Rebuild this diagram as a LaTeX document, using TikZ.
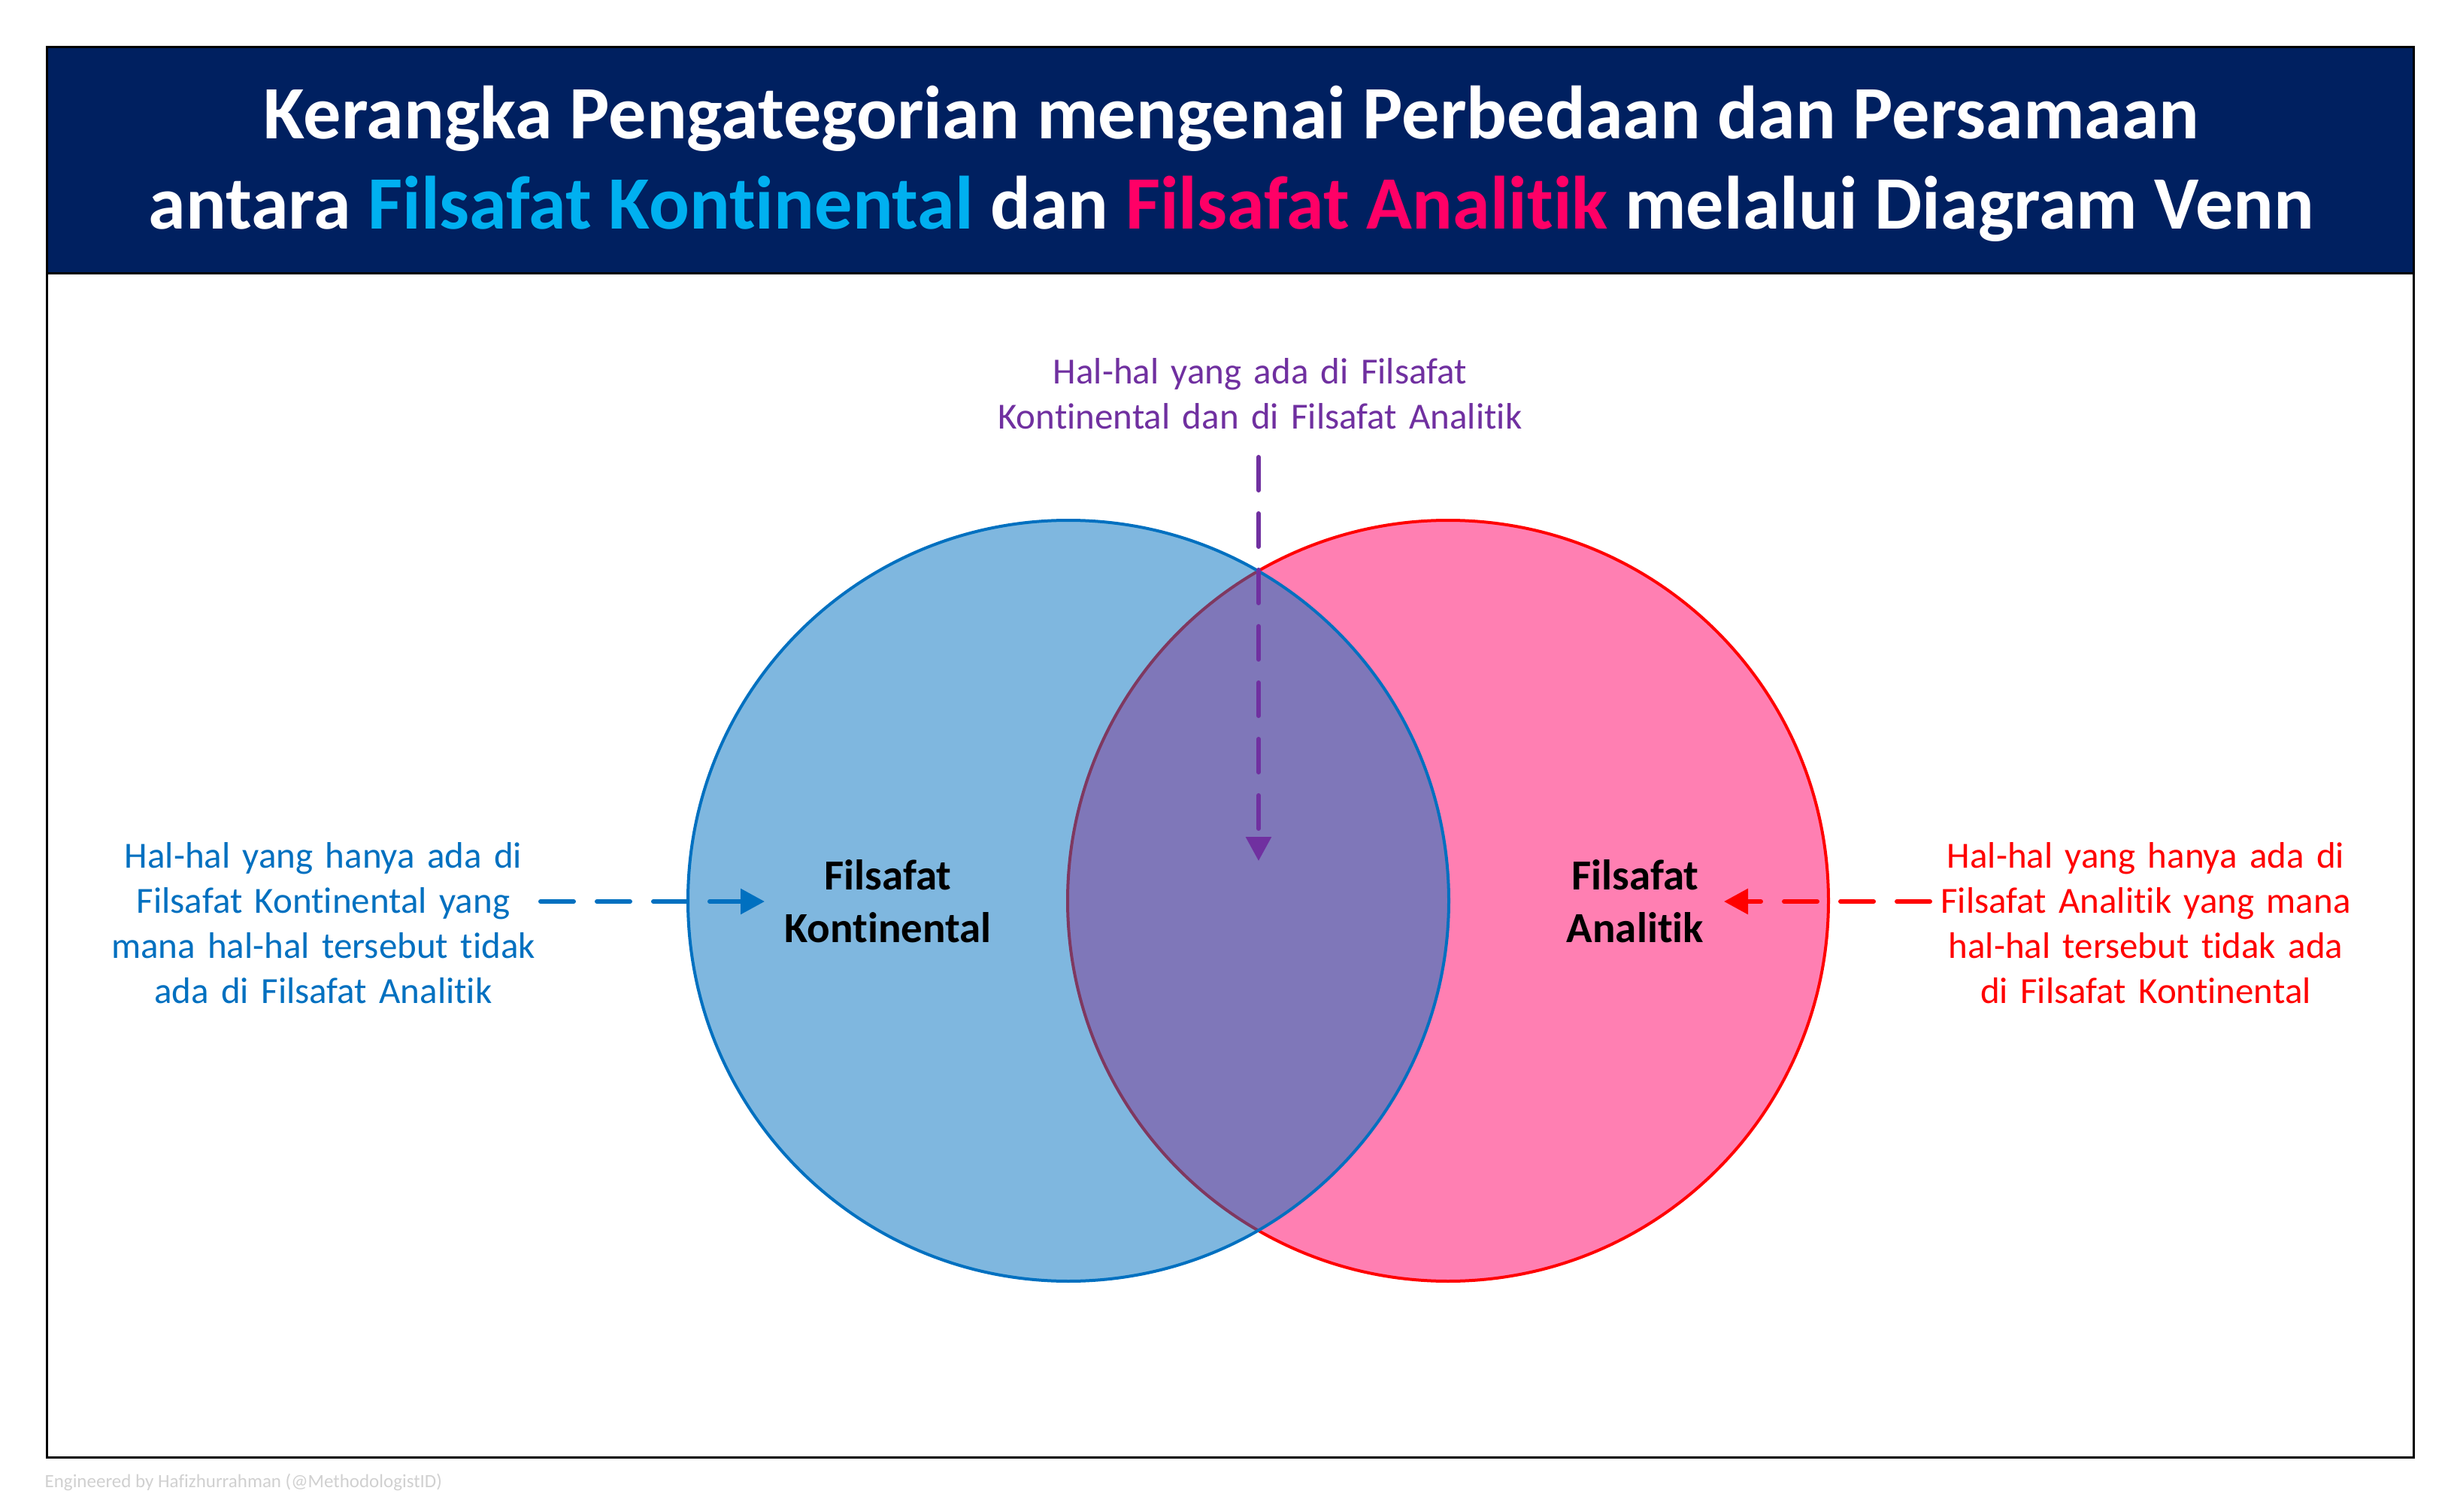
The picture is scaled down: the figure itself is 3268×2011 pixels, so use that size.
\documentclass[tikz,border=0pt]{standalone}
\usepackage{fontspec}
\setmainfont{Carlito}[Ligatures=NoCommon]
\usetikzlibrary{arrows.meta}
\definecolor{navy}{HTML}{002060}
\definecolor{ttlblue}{HTML}{00B0F0}
\definecolor{ttlpink}{HTML}{FF0066}
\definecolor{kblue}{HTML}{0070C0}
\definecolor{apink}{HTML}{FF0066}
\definecolor{ared}{HTML}{FF0000}
\definecolor{cpurple}{HTML}{7030A0}
\definecolor{footgray}{HTML}{D0D0D0}
\tikzset{
  titletext/.style={text=white, font=\fontsize{30.1pt}{36pt}\selectfont\bfseries, inner sep=0pt},
  circlabel/.style={text=black, font=\fontsize{17.1pt}{21pt}\selectfont\bfseries, align=center, text width=120pt, inner sep=0pt},
  sidetext/.style={font=\fontsize{14.7pt}{18pt}\selectfont, align=center, text width=230pt, inner sep=0pt},
  vennset/.style={circle, minimum size=303.6pt, inner sep=0pt, line width=1.2pt, fill opacity=0.5, draw opacity=1},
  pointer/.style={line width=1.8pt, line cap=round, dash pattern=on 13.2pt off 9.3pt, -{Triangle[length=9.6pt,width=9.9pt]}},
}
\begin{document}
\begin{tikzpicture}[x=0.3pt,y=-0.3pt]
\useasboundingbox (0,0) rectangle (3268,2011);
% frame and header
\draw[line width=0.9pt, fill=white] (62,63) rectangle (3210,1938);
\draw[line width=0.9pt, fill=navy] (62,63) rectangle (3210,364);
\node[titletext, anchor=base] (title1) at (1638,185) {Kerangka Pengategorian mengenai Perbedaan dan Persamaan};
\node[titletext, anchor=base] (title2) at (1638,305) {antara \textcolor{ttlblue}{Filsafat Kontinental} dan \textcolor{ttlpink}{Filsafat Analitik} melalui Diagram Venn};
% venn circles
\node[vennset, fill=apink, draw=ared] (analitik) at (1926,1198) {};
\node[vennset, fill=kblue, draw=kblue] (kontinental) at (1421,1198) {};
\node[circlabel, anchor=base] (kontlbl) at (1181,1183) {Filsafat\\Kontinental};
\node[circlabel, anchor=base] (analbl) at (2175,1183) {Filsafat\\Analitik};
% side texts
\node[sidetext, text=kblue, anchor=base] (lefttext) at (430,1154) {Hal-hal yang hanya ada di\\Filsafat Kontinental yang\\mana hal-hal tersebut tidak\\ada di Filsafat Analitik};
\node[sidetext, text=ared, anchor=base] (righttext) at (2854,1154) {Hal-hal yang hanya ada di\\Filsafat Analitik yang mana\\hal-hal tersebut tidak ada\\di Filsafat Kontinental};
\node[sidetext, text=cpurple, anchor=base] (toptext) at (1676,511) {Hal-hal yang ada di Filsafat\\Kontinental dan di Filsafat Analitik};
% pointers
\coordinate (bS) at (719,1199);
\coordinate (bE) at (1017,1199);
\coordinate (rS) at (2567,1199);
\coordinate (rE) at (2293,1199);
\coordinate (pS) at (1674,608);
\coordinate (pE) at (1674,1145);
\draw[pointer, kblue] (bS) -- (bE);
\draw[pointer, ared] (rS) -- (rE);
\draw[pointer, cpurple] (pS) -- (pE);
% footer
\node[text=footgray, font=\fontsize{7.5pt}{9pt}\selectfont, anchor=base west, inner sep=0pt] (footer) at (59,1978) {Engineered by Hafizhurrahman (@MethodologistID)};
\end{tikzpicture}
\end{document}
